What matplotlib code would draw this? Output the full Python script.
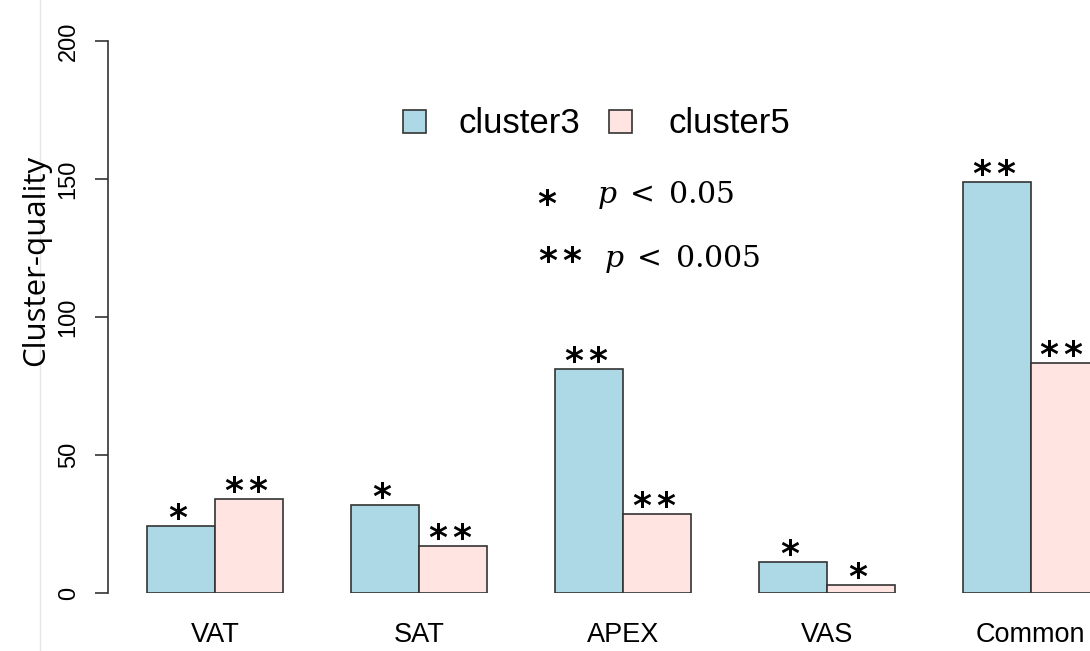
import matplotlib
matplotlib.use("Agg")
import matplotlib.pyplot as plt
from matplotlib.patches import Rectangle
from matplotlib.lines import Line2D

# Data
categories = ["VAT", "SAT", "APEX", "VAS", "Common"]
cluster3 = [24.4, 31.9, 81.2, 11.4, 148.8]
cluster5 = [34.0, 17.0, 28.6, 3.0, 83.3]
sig3 = [1, 1, 2, 1, 2]   # number of stars above each cluster3 bar
sig5 = [2, 2, 2, 1, 2]   # number of stars above each cluster5 bar
series_names = ["cluster3", "cluster5"]
colors = ["#ADD8E6", "#FFE4E1"]
yticks = [0, 50, 100, 150, 200]

plt.rcParams["mathtext.fontset"] = "dejavuserif"

W, H = 1090, 651
fig = plt.figure(figsize=(W / 100, H / 100), dpi=100)
PX = 72 / 100  # points per pixel

# y-axis at x=107.5, baseline y=593.3, top y=41 (pixels from top-left)
unit = 67.95
x0 = 79.35
left_px, right_px = 107.5, 1090
top_px, base_px = 41, 593.3
ax = fig.add_axes([left_px / W, (H - base_px) / H,
                   (right_px - left_px) / W, (base_px - top_px) / H])
ax.set_xlim((left_px - x0) / unit, (right_px - x0) / unit)
ax.set_ylim(0, 200)
for s in ["top", "right", "bottom"]:
    ax.spines[s].set_visible(False)
ax.spines["left"].set_color("#333333")
ax.spines["left"].set_linewidth(1.2)
ax.spines["left"].set_clip_on(False)

STAR_FS = 26
STAR_PITCH = 24  # px between the two stars of "**"


def stars(n, xy, coords, dy_px):
    offs = [0] if n == 1 else [-STAR_PITCH / 2, STAR_PITCH / 2]
    for o in offs:
        ax.annotate("*", xy, xycoords=coords,
                    xytext=(o * PX, dy_px * PX),
                    textcoords="offset points", ha="center",
                    va="baseline", fontsize=STAR_FS, fontweight="bold",
                    family="DejaVu Sans", annotation_clip=False)


# bars, grouped side by side with one empty unit between groups
for g in range(len(categories)):
    for k, (vals, sig) in enumerate([(cluster3, sig3), (cluster5, sig5)]):
        xl = 1 + 3 * g + k
        ax.bar(xl, vals[g], width=1, align="edge", color=colors[k],
               edgecolor="#333333", linewidth=1.2)
        xc = xl + 0.5
        if xc < ax.get_xlim()[1]:
            stars(sig[g], (xc - 0.05, vals[g]), "data", -3)

# axes ticks
ax.set_yticks(yticks)
ax.set_yticklabels([str(v) for v in yticks], rotation=90, va="center",
                   fontsize=17, family="Liberation Sans")
ax.tick_params(axis="y", length=9.5, width=1.2, color="#333333", pad=10.5)
ax.set_xticks([2 + 3 * g for g in range(len(categories))])
ax.set_xticklabels(categories, fontsize=19.5, family="Liberation Sans")
ax.tick_params(axis="x", length=0, pad=21)


def fx(px):
    return px / W


def fy(py):
    return (H - py) / H


fig.text(fx(36), fy(260), "Cluster-quality", fontsize=22.5,
         family="Open Sans", rotation=90, ha="center", va="center")

# legend
for k, (bx, tx) in enumerate([(403, 459), (609, 668)]):
    fig.patches.append(Rectangle((fx(bx), fy(133)), 23 / W, 23 / H,
                                 transform=fig.transFigure,
                                 facecolor=colors[k], edgecolor="#333333",
                                 linewidth=1.2))
    fig.text(fx(tx), fy(133), series_names[k], fontsize=25,
             family="Liberation Sans", va="baseline", ha="left")

# significance key
stars(1, (fx(547), fy(215)), "figure fraction", 0)
fig.text(fx(597), fy(203), r"$p\;<\;0.05$", fontsize=21.5,
         ha="left", va="baseline")
stars(2, (fx(560), fy(272)), "figure fraction", 0)
fig.text(fx(604), fy(267), r"$p\;<\;0.005$", fontsize=21.5,
         ha="left", va="baseline")

# faint page rule at the left
fig.add_artist(Line2D([fx(40), fx(40)], [0, 1], transform=fig.transFigure,
                      color="#e6e6e6", linewidth=1))

fig.savefig("out.png", dpi=100)
